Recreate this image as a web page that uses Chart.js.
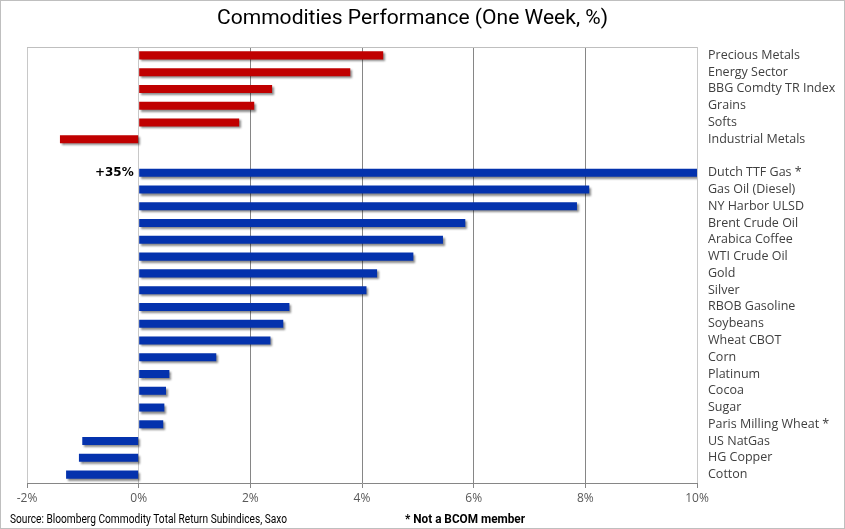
<!DOCTYPE html>
<html>
<head>
<meta charset="utf-8">
<script src="https://cdn.jsdelivr.net/npm/chart.js@4"></script>
<style>
  html, body { margin: 0; padding: 0; background: #fff; }
  #wrap { width: 845px; height: 529px; position: relative; }
</style>
</head>
<body>
<div id="wrap"><canvas id="c" width="845" height="529"></canvas></div>
<script>
const categories = [
  "Precious Metals", "Energy Sector", "BBG Comdty TR Index", "Grains", "Softs", "Industrial Metals",
  "",
  "Dutch TTF Gas *", "Gas Oil (Diesel)", "NY Harbor ULSD", "Brent Crude Oil", "Arabica Coffee",
  "WTI Crude Oil", "Gold", "Silver", "RBOB Gasoline", "Soybeans", "Wheat CBOT", "Corn",
  "Platinum", "Cocoa", "Sugar", "Paris Milling Wheat *", "US NatGas", "HG Copper", "Cotton"
];
const values = [
  4.38, 3.79, 2.39, 2.07, 1.80, -1.41,
  null,
  35, 8.07, 7.85, 5.85, 5.45,
  4.92, 4.27, 4.08, 2.70, 2.59, 2.36, 1.39,
  0.55, 0.49, 0.46, 0.44, -1.01, -1.07, -1.30
];
const sectorCount = 6;
const xTicks = [-2, 0, 2, 4, 6, 8, 10];
const outlierLabel = "+35%";
const outlierIndex = 7;
const titleText = "Commodities Performance (One Week, %)";
const sourceText = "Source: Bloomberg Commodity Total Return Subindices, Saxo";
const noteText = "* Not a BCOM member";

const RED = "#C00000";
const BLUE = "#0432AD";
const colors = values.map((v, i) => i < sectorCount ? RED : BLUE);

const W = 845, H = 529;
const areaLeft = 27, areaRight = 697, areaTop = 47, areaBottom = 483;

function fitText(ctx, text, x, y, width) {
  const m = ctx.measureText(text).width;
  ctx.save();
  ctx.translate(x, y);
  ctx.scale(width / m, 1);
  ctx.fillText(text, 0, 0);
  ctx.restore();
}

const decorPlugin = {
  id: "decor",
  beforeDatasetsDraw(chart) {
    const ctx = chart.ctx;
    ctx.save();
    ctx.shadowColor = "rgba(0,0,0,0.45)";
    ctx.shadowOffsetX = 2;
    ctx.shadowOffsetY = 2;
    ctx.shadowBlur = 2;
  },
  afterDatasetsDraw(chart) {
    chart.ctx.restore();
  },
  afterDraw(chart) {
    const ctx = chart.ctx;
    const ca = chart.chartArea;
    ctx.save();
    ctx.strokeStyle = "#bfbfbf";
    ctx.lineWidth = 1;
    ctx.beginPath();
    ctx.moveTo(ca.left, Math.round(ca.top) + 0.5);
    ctx.lineTo(ca.right, Math.round(ca.top) + 0.5);
    ctx.stroke();
    ctx.strokeRect(0.5, 0.5, W - 1, H - 1);
    // title
    ctx.fillStyle = "#000";
    ctx.font = "21px Roboto, 'Open Sans', sans-serif";
    ctx.textAlign = "left";
    ctx.textBaseline = "middle";
    fitText(ctx, titleText, 217, 19, 391);
    // outlier label
    const xs = chart.scales.x, ys = chart.scales.y;
    ctx.font = "bold 12px 'DejaVu Sans', sans-serif";
    ctx.textAlign = "right";
    ctx.fillText(outlierLabel, xs.getPixelForValue(0) - 5, ys.getPixelForValue(outlierIndex));
    // footer
    ctx.textAlign = "left";
    ctx.font = "12.5px Roboto, sans-serif";
    fitText(ctx, sourceText, 10, 520, 277);
    ctx.font = "bold 12.5px Roboto, sans-serif";
    fitText(ctx, noteText, 405, 520, 120);
    ctx.restore();
  }
};

new Chart(document.getElementById("c"), {
  type: "bar",
  data: {
    labels: categories,
    datasets: [{
      data: values,
      backgroundColor: colors,
      borderWidth: 0,
      categoryPercentage: 1,
      barPercentage: 0.48
    }]
  },
  options: {
    indexAxis: "y",
    responsive: false,
    animation: false,
    events: [],
    layout: { padding: { left: areaLeft, top: areaTop, right: 0, bottom: 0 } },
    plugins: { legend: { display: false }, tooltip: { enabled: false }, title: { display: false } },
    scales: {
      x: {
        type: "linear",
        min: -2, max: 10,
        afterBuildTicks(scale) { scale.ticks = xTicks.map(v => ({ value: v })); },
        afterFit(scale) { scale.height = H - areaBottom; },
        ticks: {
          callback: v => v + "%",
          color: "#595959",
          font: { size: 12, family: "'Open Sans', Roboto, sans-serif" },
          padding: 3
        },
        grid: {
          color: ctx => {
            const v = ctx.tick ? ctx.tick.value : null;
            return (v === 0 || v === -2 || v === 10) ? "#c8c8c8" : "#868686";
          },
          tickColor: "#868686",
          tickLength: 5,
          lineWidth: 1
        },
        border: { color: "#868686" }
      },
      y: {
        position: "right",
        afterFit(scale) { scale.width = W - areaRight; },
        grid: { display: false, drawTicks: false },
        border: { display: false },
        ticks: {
          color: "#404040",
          font: { size: 12.5, family: "'Open Sans', Roboto, sans-serif" },
          padding: 11,
          autoSkip: false
        }
      }
    }
  },
  plugins: [decorPlugin]
});
</script>
</body>
</html>
